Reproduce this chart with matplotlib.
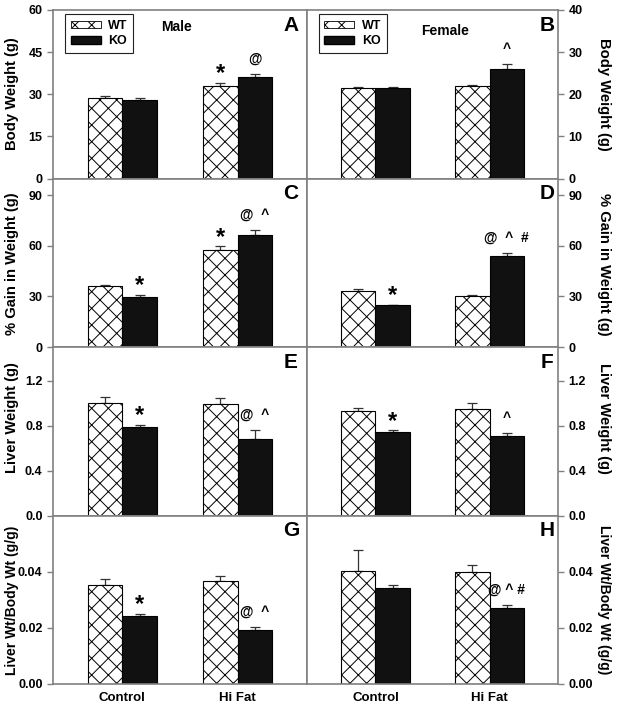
import matplotlib.pyplot as plt
import matplotlib.patches as mpatches
import numpy as np

plt.rcParams['font.family'] = ['Liberation Sans', 'DejaVu Sans']
plt.rcParams['font.weight'] = 'bold'
plt.rcParams['hatch.linewidth'] = 0.7

groups = ['Control', 'Hi Fat']

# body weight (g)
bw_male_wt = [28.7, 33.1]
bw_male_wt_err = [0.8, 1.0]
bw_male_ko = [27.9, 36.0]
bw_male_ko_err = [0.7, 1.2]
bw_fem_wt = [21.4, 22.0]
bw_fem_wt_err = [0.4, 0.3]
bw_fem_ko = [21.4, 26.0]
bw_fem_ko_err = [0.4, 1.1]

# % gain in weight
gain_male_wt = [36.0, 57.8]
gain_male_wt_err = [1.0, 1.9]
gain_male_ko = [29.8, 66.7]
gain_male_ko_err = [1.3, 3.0]
gain_fem_wt = [33.0, 30.0]
gain_fem_wt_err = [1.4, 0.6]
gain_fem_ko = [24.7, 53.8]
gain_fem_ko_err = [0.5, 2.2]

# liver weight (g)
liver_male_wt = [1.00, 0.99]
liver_male_wt_err = [0.055, 0.06]
liver_male_ko = [0.79, 0.68]
liver_male_ko_err = [0.02, 0.08]
liver_fem_wt = [0.93, 0.95]
liver_fem_wt_err = [0.03, 0.05]
liver_fem_ko = [0.74, 0.71]
liver_fem_ko_err = [0.02, 0.02]

# liver wt / body wt (g/g)
ratio_male_wt = [0.0354, 0.0365]
ratio_male_wt_err = [0.002, 0.002]
ratio_male_ko = [0.0241, 0.0192]
ratio_male_ko_err = [0.001, 0.001]
ratio_fem_wt = [0.0402, 0.0400]
ratio_fem_wt_err = [0.0074, 0.0023]
ratio_fem_ko = [0.0343, 0.0272]
ratio_fem_ko_err = [0.001, 0.001]

# significance marks: (series, group index, text)
marks_a = [('wt', 1, '*'), ('ko', 1, '@')]
marks_b = [('ko', 1, '^')]
marks_c = [('ko', 0, '*'), ('wt', 1, '*'), ('ko', 1, '@  ^')]
marks_d = [('ko', 0, '*'), ('ko', 1, '@  ^  #')]
marks_e = [('ko', 0, '*'), ('ko', 1, '@  ^')]
marks_f = [('ko', 0, '*'), ('ko', 1, '^')]
marks_g = [('ko', 0, '*'), ('ko', 1, '@  ^')]
marks_h = [('ko', 1, '@ ^ #')]

ylabels = ['Body Weight (g)', '% Gain in Weight (g)', 'Liver Weight (g)', 'Liver Wt/Body Wt (g/g)']
ylims = [[(0, 60), (0, 40)], [(0, 100), (0, 100)], [(0, 1.5), (0, 1.5)], [(0, 0.06), (0, 0.06)]]
yticks = [[[0, 15, 30, 45, 60], [0, 10, 20, 30, 40]], [[0, 30, 60, 90]] * 2,
          [[0, 0.4, 0.8, 1.2]] * 2, [[0, 0.02, 0.04]] * 2]
yfmt = ['%d', '%d', '%.1f', '%.2f']

panels = [
    [('A', bw_male_wt, bw_male_wt_err, bw_male_ko, bw_male_ko_err, marks_a),
     ('B', bw_fem_wt, bw_fem_wt_err, bw_fem_ko, bw_fem_ko_err, marks_b)],
    [('C', gain_male_wt, gain_male_wt_err, gain_male_ko, gain_male_ko_err, marks_c),
     ('D', gain_fem_wt, gain_fem_wt_err, gain_fem_ko, gain_fem_ko_err, marks_d)],
    [('E', liver_male_wt, liver_male_wt_err, liver_male_ko, liver_male_ko_err, marks_e),
     ('F', liver_fem_wt, liver_fem_wt_err, liver_fem_ko, liver_fem_ko_err, marks_f)],
    [('G', ratio_male_wt, ratio_male_wt_err, ratio_male_ko, ratio_male_ko_err, marks_g),
     ('H', ratio_fem_wt, ratio_fem_wt_err, ratio_fem_ko, ratio_fem_ko_err, marks_h)],
]

W, H = 617, 709
fig = plt.figure(figsize=(W / 100, H / 100), dpi=100)
xl = [53, 307, 558]
top, bot = 10, 684
ph = (bot - top) / 4
grey = '#808080'
bw = 0.3
x = np.arange(len(groups))
label_y = [94, 264, 418, 600]
label_size = [10.6, 10.6, 10.6, 10.0]

for r in range(4):
    fig.text(12.5 / W, 1 - label_y[r] / H, ylabels[r], rotation=90, ha='center', va='center',
             fontsize=label_size[r], fontweight='bold')
    fig.text(604 / W, 1 - label_y[r] / H, ylabels[r], rotation=270, ha='center', va='center',
             fontsize=label_size[r], fontweight='bold')
    for c in range(2):
        letter, wt, wt_err, ko, ko_err, marks = panels[r][c]
        ax = fig.add_axes([xl[c] / W, 1 - (top + (r + 1) * ph) / H, (xl[c + 1] - xl[c]) / W, ph / H])
        ax.bar(x - bw / 2, wt, bw, color='white', edgecolor='black', hatch='xx', linewidth=0.8, zorder=2)
        ax.bar(x + bw / 2, ko, bw, color='#111111', edgecolor='black', linewidth=0.8, zorder=2)
        ax.errorbar(x - bw / 2, wt, yerr=[np.zeros(2), wt_err], fmt='none', ecolor='#333333',
                    elinewidth=0.9, capsize=3.5, capthick=0.9, zorder=1)
        ax.errorbar(x + bw / 2, ko, yerr=[np.zeros(2), ko_err], fmt='none', ecolor='#333333',
                    elinewidth=0.9, capsize=3.5, capthick=0.9, zorder=1)
        for series, gi, txt in marks:
            if series == 'wt':
                xp, yp = x[gi] - bw / 2, wt[gi] + wt_err[gi]
            else:
                xp, yp = x[gi] + bw / 2, ko[gi] + ko_err[gi]
            if txt == '*':
                ax.annotate(txt, (xp, yp), xytext=(0, -2), textcoords='offset points',
                            ha='center', va='bottom', fontsize=17, fontweight='bold')
            else:
                ax.annotate(txt, (xp, yp), xytext=(0, 6), textcoords='offset points',
                            ha='center', va='bottom', fontsize=10, fontweight='bold')
        ax.set_xlim(-0.6, 1.6)
        ax.set_ylim(*ylims[r][c])
        ax.set_yticks(yticks[r][c])
        ax.set_yticklabels([yfmt[r] % v for v in yticks[r][c]])
        ax.set_xticks(x)
        if r == 3:
            ax.set_xticklabels(groups, fontsize=9.5, fontweight='bold')
        else:
            ax.set_xticklabels([])
        ax.tick_params(axis='x', length=0, pad=6)
        ax.tick_params(axis='y', direction='out', length=4, color=grey, labelsize=9, width=1)
        for sp in ax.spines.values():
            sp.set_color(grey)
            sp.set_linewidth(1.2)
        if c == 1:
            ax.yaxis.tick_right()
            ax.text(0.956, 0.91, letter, transform=ax.transAxes, ha='center', va='center',
                    fontsize=15, fontweight='bold')
        else:
            ax.text(0.937, 0.91, letter, transform=ax.transAxes, ha='center', va='center',
                    fontsize=15, fontweight='bold')
        if r == 0:
            handles = [mpatches.Patch(facecolor='white', edgecolor='black', hatch='xx', linewidth=0.6),
                       mpatches.Patch(facecolor='#111111', edgecolor='black')]
            leg = ax.legend(handles, ['WT', 'KO'], loc='upper left', bbox_to_anchor=(0.047, 0.976),
                            borderaxespad=0, fancybox=False, edgecolor='#222222', framealpha=1,
                            fontsize=9, handlelength=2.4, handleheight=0.5, borderpad=0.45,
                            labelspacing=0.3, handletextpad=0.6)
            leg.get_frame().set_linewidth(0.8)
            if c == 0:
                ax.text(0.488, 0.90, 'Male', transform=ax.transAxes, ha='center', va='center',
                        fontsize=10, fontweight='bold')
            else:
                ax.text(0.55, 0.875, 'Female', transform=ax.transAxes, ha='center', va='center',
                        fontsize=10, fontweight='bold')

fig.savefig('out.png', dpi=100)
